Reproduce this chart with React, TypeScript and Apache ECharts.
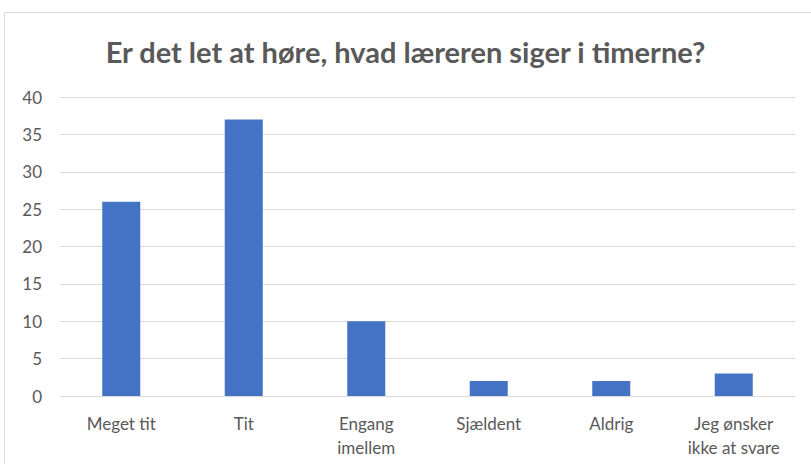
import React, { useEffect, useRef } from "react";
import * as echarts from "echarts";

const categories = ["Meget tit", "Tit", "Engang\nimellem", "Sjældent", "Aldrig", "Jeg ønsker\nikke at svare"];
const values = [26, 37, 10, 2, 2, 3];
const title = "Er det let at høre, hvad læreren siger i timerne?";

export default function App() {
  const ref = useRef<HTMLDivElement>(null);
  useEffect(() => {
    const chart = echarts.init(ref.current!, null, { renderer: "svg" });
    chart.setOption({
      animation: false,
      backgroundColor: "#ffffff",
      title: {
        text: title,
        left: "center",
        top: 32,
        textStyle: { fontFamily: "Lato", fontWeight: "bold", fontSize: 29, color: "#595959" },
      },
      graphic: [
        {
          type: "rect",
          shape: { x: 4.5, y: 12.5, width: 820, height: 470 },
          style: { fill: "none", stroke: "#d9d9d9", lineWidth: 1 },
          silent: true,
        },
      ],
      grid: { left: 60, right: 16, top: 97, bottom: 68 },
      xAxis: {
        type: "category",
        data: categories,
        axisLine: { lineStyle: { color: "#d9d9d9", width: 1 } },
        axisTick: { show: false },
        axisLabel: {
          color: "#595959",
          fontFamily: "Lato",
          fontSize: 17,
          lineHeight: 24,
          margin: 15,
          interval: 0,
        },
      },
      yAxis: {
        type: "value",
        min: 0,
        max: 40,
        interval: 5,
        axisLine: { show: false },
        axisTick: { show: false },
        splitLine: { lineStyle: { color: "#d9d9d9", width: 1 } },
        axisLabel: { color: "#595959", fontFamily: "Lato", fontSize: 17, margin: 18 },
      },
      series: [
        {
          type: "bar",
          data: values,
          barWidth: 38,
          itemStyle: { color: "#4472c4" },
        },
      ],
    });
    return () => chart.dispose();
  }, []);
  return <div ref={ref} style={{ position: "absolute", left: 0, top: 0, width: 811, height: 464 }} />;
}
